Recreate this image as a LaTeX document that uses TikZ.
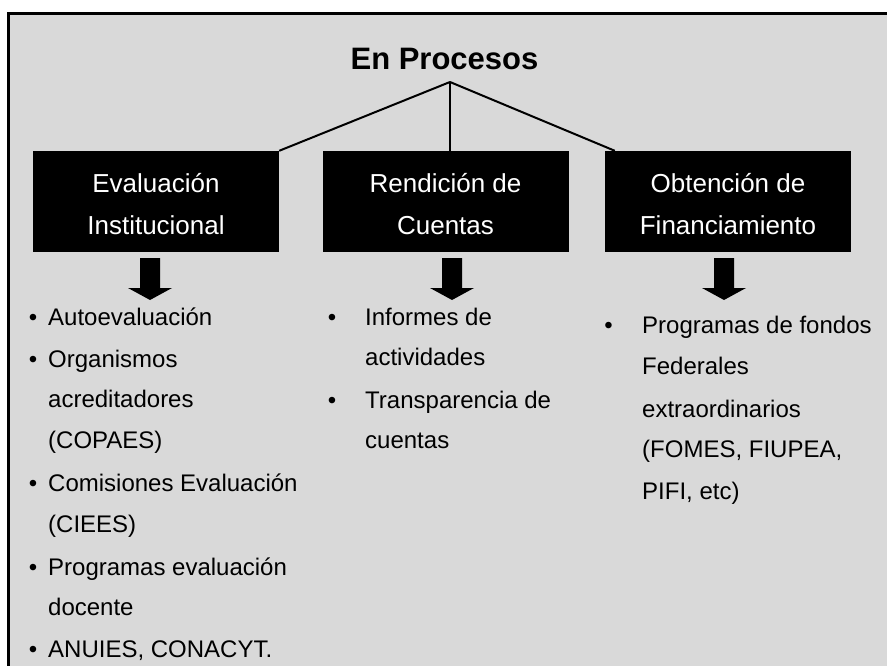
\documentclass[tikz,border=0pt]{standalone}
\usepackage{fontspec}
\setmainfont{Liberation Sans}
\definecolor{bg}{RGB}{217,217,217}
\tikzset{
  box/.style={fill=black, draw=none, minimum width=246pt, minimum height=101pt, inner sep=0pt},
  boxtxt/.style={text=white, font=\fontsize{26}{30}\selectfont, anchor=base, inner sep=0pt},
  titletxt/.style={font=\bfseries\fontsize{31}{36}\selectfont, anchor=base, inner sep=0pt},
  item/.style={font=\fontsize{24}{28}\selectfont, anchor=base west, inner sep=0pt},
  bul/.style={font=\fontsize{24}{28}\selectfont, anchor=base, inner sep=0pt},
  conn/.style={line width=2pt, line join=round},
  blockarrow/.style={fill=black}
}
\begin{document}
\begin{tikzpicture}[x=1pt,y=-1pt]
\useasboundingbox (0,0) rectangle (887,666);
\fill[white] (0,0) rectangle (887,666);
\clip (0,0) rectangle (887,666);
\draw[line width=3pt, fill=bg] (8.5,14) rectangle (900,680);

% title
\node[titletxt] (title) at (444.5,70) {En Procesos};
\coordinate (apex) at (450,82);

% boxes
\node[box] (b1) at (156,201.5) {};
\node[box] (b2) at (445.5,201.5) {};
\node[box] (b3) at (728,201.5) {};
\node[boxtxt] (b1a) at (156,193) {Evaluación};
\node[boxtxt] (b1b) at (156,234) {Institucional};
\node[boxtxt] (b2a) at (445.5,193) {Rendición de};
\node[boxtxt] (b2b) at (445.5,234) {Cuentas};
\node[boxtxt] (b3a) at (728,193) {Obtención de};
\node[boxtxt] (b3b) at (728,234) {Financiamiento};

% connectors
\draw[conn] (apex) -- (b1.north east);
\draw[conn] (apex) -- (apex |- b2.north);
\draw[conn] (apex) -- ([xshift=10pt]b3.north west);

% block arrows
\foreach \cx in {150,452,724}
  \fill[blockarrow] ({\cx-10},258) -- ({\cx+10},258) -- ({\cx+10},288) -- ({\cx+22},288)
     -- (\cx,300) -- ({\cx-22},288) -- ({\cx-10},288) -- cycle;

% left column
\foreach \yy/\tt [count=\i] in {325/{Autoevaluación}, 367/{Organismos}, 407/{acreditadores},
   448/{(COPAES)}, 491/{Comisiones Evaluación}, 532/{(CIEES)}, 575/{Programas evaluación},
   615/{docente}, 657/{ANUIES, CONACYT.}}
  \node[item] (L\i) at (48,\yy) {\tt};
\foreach \yy [count=\i] in {325,367,491,575,657}
  \node[bul] (LB\i) at (33,\yy) {\textbullet};

% middle column
\foreach \yy/\tt [count=\i] in {325/{Informes de}, 365/{actividades}, 408/{Transparencia de}, 448/{cuentas}}
  \node[item] (M\i) at (365,\yy) {\tt};
\foreach \yy [count=\i] in {325,408}
  \node[bul] (MB\i) at (332,\yy) {\textbullet};

% right column
\foreach \yy/\tt [count=\i] in {333/{Programas de fondos}, 374/{Federales}, 417/{extraordinarios},
   457/{(FOMES, FIUPEA,}, 499/{PIFI, etc)}}
  \node[item] (R\i) at (642,\yy) {\tt};
\node[bul] (RB1) at (608.5,333) {\textbullet};
\end{tikzpicture}
\end{document}
